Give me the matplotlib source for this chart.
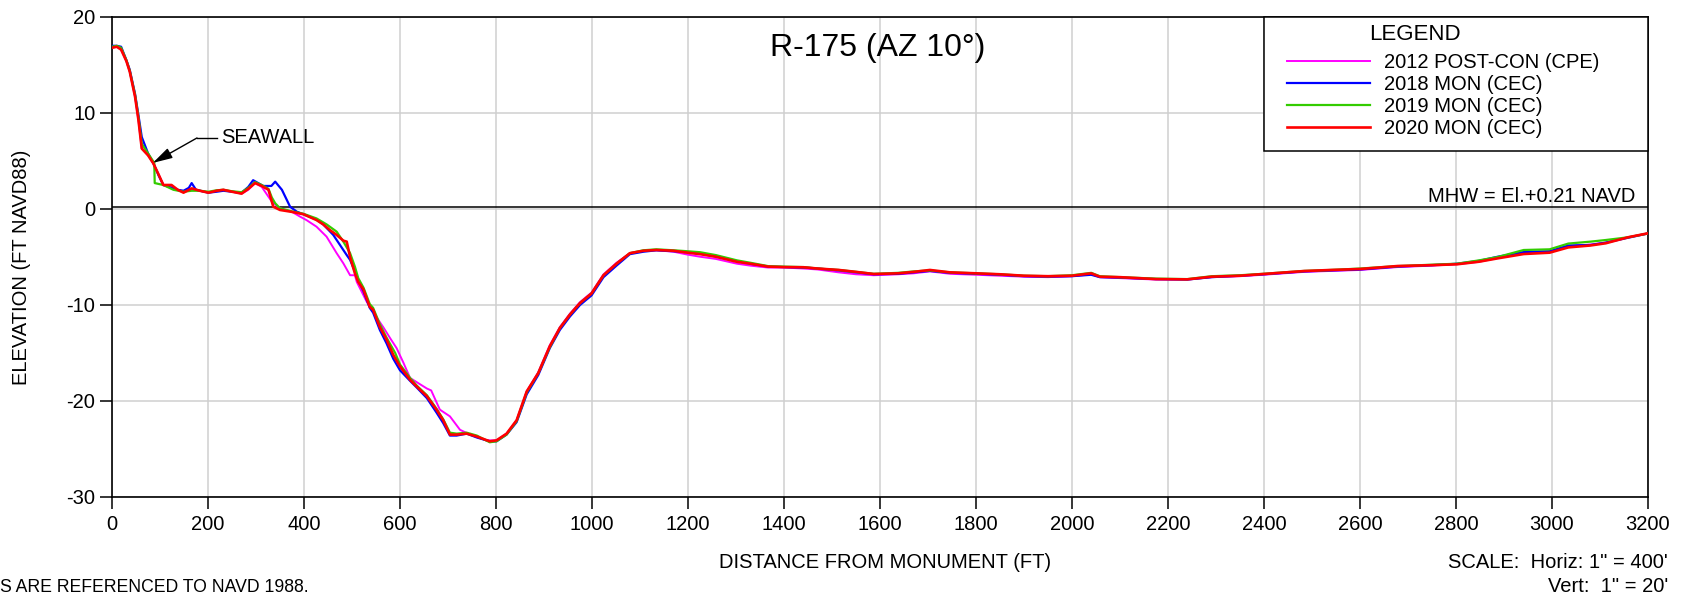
import matplotlib
matplotlib.use("Agg")
import matplotlib.pyplot as plt
from matplotlib.patches import Rectangle

plt.rcParams['font.family'] = ['Liberation Sans', 'DejaVu Sans']
plt.rcParams['axes.unicode_minus'] = False

# ---------------- data ----------------
tail_dist = [1079, 1107, 1134, 1170, 1199, 1225, 1258, 1302, 1330, 1367, 1400, 1441,
             1470, 1514, 1550, 1587, 1638, 1670, 1704, 1746, 1800, 1850, 1900, 1950,
             2000, 2040, 2058, 2100, 2175, 2240, 2291, 2350, 2399, 2484, 2540, 2600,
             2678, 2750, 2802, 2848, 2887, 2941, 2995, 3034, 3080, 3112, 3158, 3200]

# 2020 MON (CEC)
d2020_head = [0, 10, 19, 30, 37, 48, 55, 62, 75, 86, 97, 107, 124, 137, 149, 166, 183, 201,
              218, 232, 250, 270, 284, 298, 312, 326, 336, 350, 375, 399, 426, 440, 454,
              468, 482, 489, 496, 506, 513, 524, 537, 544, 558, 572, 586, 600, 621, 635,
              656, 676, 690, 704, 718, 739, 760, 787, 801, 822, 843, 864, 888, 912, 933,
              954, 975, 999, 1024, 1051]
e2020_head = [16.8, 16.9, 16.6, 15.4, 14.3, 11.7, 9.3, 6.3, 5.6, 4.76, 3.6, 2.5, 2.5, 2.0,
              1.7, 2.15, 1.9, 1.7, 1.9, 2.0, 1.8, 1.6, 2.1, 2.7, 2.4, 2.0, 0.24, -0.1, -0.3,
              -0.55, -1.15, -1.6, -2.2, -2.7, -3.3, -3.4, -5.0, -6.7, -7.6, -8.4, -10.2,
              -10.5, -12.3, -13.6, -15.2, -16.4, -17.8, -18.5, -19.5, -20.9, -22.0, -23.5,
              -23.5, -23.4, -23.7, -24.2, -24.1, -23.4, -22.0, -19.0, -17.1, -14.3, -12.4,
              -11.0, -9.8, -8.8, -6.9, -5.7]
e2020_tail = [-4.6, -4.35, -4.27, -4.35, -4.55, -4.7, -4.97, -5.5, -5.7, -6.0, -6.05, -6.07,
              -6.2, -6.35, -6.55, -6.77, -6.7, -6.55, -6.35, -6.6, -6.7, -6.8, -6.95, -7.0,
              -6.95, -6.7, -7.05, -7.1, -7.3, -7.33, -7.05, -6.95, -6.77, -6.46, -6.35, -6.25,
              -5.94, -5.85, -5.76, -5.49, -5.14, -4.69, -4.55, -4.0, -3.8, -3.57, -2.95, -2.53]

# 2018 MON (CEC)
d2018_head = [0, 10, 19, 30, 37, 48, 55, 62, 75, 86, 97, 107, 124, 137, 149, 160, 166, 175,
              201, 218, 232, 250, 270, 284, 294, 315, 332, 340, 354, 371, 385, 399, 426,
              440, 461, 475, 489, 496, 506, 513, 524, 537, 544, 558, 572, 586, 600, 621,
              635, 656, 676, 690, 704, 718, 739, 760, 787, 801, 822, 843, 864, 888, 912,
              933, 954, 975, 999, 1024, 1051]
e2018_head = [17.0, 17.0, 16.9, 15.5, 14.5, 12.0, 9.8, 7.5, 5.8, 4.8, 3.5, 2.5, 2.2, 2.0,
              1.9, 2.2, 2.7, 2.0, 1.7, 1.8, 1.9, 1.8, 1.7, 2.3, 3.0, 2.4, 2.4, 2.85, 2.0,
              0.24, -0.28, -0.55, -1.1, -1.6, -2.7, -3.75, -4.8, -5.3, -6.5, -7.4, -8.6,
              -10.3, -10.8, -12.6, -14.0, -15.6, -16.8, -17.9, -18.6, -19.7, -21.2, -22.3,
              -23.6, -23.6, -23.4, -23.8, -24.2, -24.2, -23.5, -22.2, -19.3, -17.3, -14.5,
              -12.6, -11.2, -10.0, -9.0, -7.1, -5.9]
e2018_tail = [-4.7, -4.45, -4.3, -4.4, -4.5, -4.65, -4.95, -5.45, -5.7, -6.0, -6.05, -6.1,
              -6.2, -6.4, -6.6, -6.8, -6.75, -6.6, -6.45, -6.65, -6.75, -6.85, -7.0, -7.05,
              -7.0, -6.85, -7.1, -7.15, -7.3, -7.35, -7.1, -6.95, -6.8, -6.5, -6.4, -6.3,
              -6.0, -5.85, -5.7, -5.4, -4.97, -4.48, -4.4, -3.8, -3.75, -3.5, -3.0, -2.55]

# 2019 MON (CEC)
d2019_head = [0, 10, 19, 30, 37, 48, 55, 62, 75, 88, 89, 107, 128, 149, 166, 183, 201, 218,
              232, 250, 270, 284, 298, 312, 326, 333, 340, 350, 375, 399, 426, 447, 468,
              482, 496, 506, 513, 524, 537, 544, 558, 572, 590, 600, 621, 635, 656, 676,
              690, 704, 718, 739, 760, 787, 801, 822, 843, 864, 888, 912, 933, 954, 975,
              999, 1024, 1051]
e2019_head = [16.9, 17.0, 16.8, 15.5, 14.4, 11.9, 9.6, 6.8, 5.8, 4.8, 2.7, 2.5, 2.0, 1.8,
              1.9, 1.9, 1.8, 1.95, 2.0, 1.85, 1.75, 2.2, 2.8, 2.5, 2.1, 1.2, 0.6, 0.07,
              -0.25, -0.5, -0.98, -1.6, -2.36, -3.4, -4.6, -6.0, -7.2, -8.2, -9.9, -10.3,
              -12.0, -13.4, -15.0, -16.2, -17.6, -18.4, -19.4, -20.8, -21.9, -23.3, -23.4,
              -23.3, -23.6, -24.3, -24.2, -23.5, -22.1, -19.1, -17.1, -14.4, -12.4, -11.0,
              -9.8, -8.8, -6.9, -5.7]
e2019_tail = [-4.6, -4.3, -4.2, -4.3, -4.4, -4.5, -4.8, -5.35, -5.6, -5.95, -6.0, -6.05,
              -6.2, -6.35, -6.55, -6.75, -6.65, -6.5, -6.4, -6.6, -6.7, -6.8, -6.95, -7.0,
              -6.9, -6.65, -7.0, -7.1, -7.25, -7.3, -7.0, -6.9, -6.75, -6.45, -6.35, -6.2,
              -5.95, -5.8, -5.7, -5.35, -5.0, -4.27, -4.2, -3.6, -3.4, -3.23, -2.95, -2.55]

# 2012 POST-CON (CPE)
d2012_head = [0, 10, 19, 30, 37, 48, 55, 62, 75, 86, 97, 107, 124, 137, 149, 166, 183, 201,
              218, 232, 250, 270, 284, 298, 312, 333, 350, 375, 392, 405, 426, 447, 468,
              482, 496, 506, 510, 530, 550, 565, 580, 593, 607, 621, 640, 656, 665, 683,
              704, 725, 746, 780, 801, 822, 843, 864, 888, 912, 933, 954, 975, 999, 1024,
              1051]
e2012_head = [16.8, 16.9, 16.6, 15.4, 14.3, 11.7, 9.3, 6.3, 5.6, 4.76, 3.6, 2.5, 2.4, 2.0,
              1.8, 2.1, 1.9, 1.7, 1.9, 2.0, 1.8, 1.6, 2.0, 2.7, 2.3, 0.76, 0.07, -0.3, -0.8,
              -1.15, -1.84, -2.88, -4.6, -5.66, -6.9, -6.9, -7.6, -9.6, -11.2, -12.3, -13.5,
              -14.5, -16.0, -17.6, -18.2, -18.7, -18.9, -20.9, -21.6, -23.0, -23.5, -24.1,
              -24.1, -23.4, -22.0, -19.0, -17.0, -14.2, -12.3, -10.9, -9.7, -8.7, -6.8, -5.6]
e2012_tail = [-4.6, -4.35, -4.3, -4.45, -4.75, -4.97, -5.2, -5.7, -5.9, -6.1, -6.1, -6.2,
              -6.3, -6.6, -6.8, -6.9, -6.8, -6.7, -6.5, -6.75, -6.85, -6.95, -7.05, -7.1,
              -7.0, -6.8, -7.1, -7.2, -7.35, -7.35, -7.1, -7.0, -6.85, -6.55, -6.45, -6.35,
              -6.05, -5.9, -5.75, -5.5, -5.1, -4.6, -4.5, -3.9, -3.7, -3.5, -2.95, -2.53]

labels = ["2012 POST-CON (CPE)", "2018 MON (CEC)", "2019 MON (CEC)", "2020 MON (CEC)"]
colors = ["#FF00FF", "#0000FF", "#33CC00", "#FF0000"]

x_ticks = list(range(0, 3201, 200))
y_ticks = [-30, -20, -10, 0, 10, 20]
mhw = 0.21

# ---------------- figure ----------------
W, H = 1683, 600
fig = plt.figure(figsize=(W / 100, H / 100), dpi=100)
L, R, T, B = 112, 1648, 17, 497
ax = fig.add_axes([L / W, 1 - B / H, (R - L) / W, (B - T) / H])

series = [(d2012_head + tail_dist, e2012_head + e2012_tail),
          (d2018_head + tail_dist, e2018_head + e2018_tail),
          (d2019_head + tail_dist, e2019_head + e2019_tail),
          (d2020_head + tail_dist, e2020_head + e2020_tail)]
handles = []
for (d, e), c, lab, lw in zip(series, colors, labels, [1.4, 1.6, 1.6, 1.9]):
    h, = ax.plot(d, e, color=c, lw=lw, label=lab, zorder=3, solid_joinstyle='round')
    handles.append(h)

ax.set_xlim(0, 3200)
ax.set_ylim(-30, 20)
ax.set_xticks(x_ticks)
ax.set_yticks(y_ticks)
ax.grid(True, color='#cfcfcf', lw=1.1)
ax.set_axisbelow(True)
ax.tick_params(direction='out', length=8.5, width=1.1, labelsize=14.5, colors='black')
ax.tick_params(axis='y', pad=3.5)
ax.tick_params(axis='x', pad=4.5)
for s in ax.spines.values():
    s.set_color('black')
    s.set_linewidth(1.2)
ax.axhline(mhw, color='black', lw=1.1, zorder=2)

ax.text(3173, 0.76, "MHW = El.+0.21 NAVD", ha='right', va='baseline', fontsize=14.5)

# seawall annotation
ax.text(227, 7.4, "SEAWALL", ha='left', va='center', fontsize=14.5)
ax.plot([177, 219], [7.4, 7.4], color='black', lw=1.0)
ax.annotate('', xy=(85, 4.8), xytext=(177, 7.4),
            arrowprops=dict(arrowstyle='-|>,head_length=0.8,head_width=0.22',
                            mutation_scale=15, color='black', lw=1.0,
                            shrinkA=0, shrinkB=0))

# title and labels
fig.text(878 / W, 1 - 48 / H, "R-175 (AZ 10°)", ha='center', va='center', fontsize=23)
fig.text(885 / W, 1 - 563 / H, "DISTANCE FROM MONUMENT (FT)", ha='center', va='center',
         fontsize=14.5)
fig.text(22 / W, 1 - 267 / H, "ELEVATION (FT NAVD88)", ha='center', va='center',
         rotation=90, fontsize=14.5)
fig.text(1668 / W, 1 - 563 / H, "SCALE:  Horiz: 1\" = 400'", ha='right', va='center',
         fontsize=14.5)
fig.text(1668 / W, 1 - 587 / H, "Vert:  1\" = 20'", ha='right', va='center', fontsize=14.5)
fig.text(0, 1 - 588 / H, "S ARE REFERENCED TO NAVD 1988.", ha='left', va='center',
         fontsize=12.7)

# legend box
box = Rectangle((1264 / W, 1 - 151 / H), (1648 - 1264) / W, (151 - 17) / H,
                transform=fig.transFigure, facecolor='white', edgecolor='black',
                lw=1.1, zorder=2)
fig.patches.append(box)
fig.text(1369 / W, 1 - 35 / H, "LEGEND", ha='left', va='center', fontsize=16, zorder=4)
fig.legend(handles=handles, labels=labels, loc='upper left',
           bbox_to_anchor=(1287 / W, 1 - 53 / H), bbox_transform=fig.transFigure,
           frameon=False, borderpad=0, borderaxespad=0, handlelength=4.1,
           handletextpad=0.7, labelspacing=0.15, fontsize=14.5)

fig.savefig("out.png", dpi=100)
